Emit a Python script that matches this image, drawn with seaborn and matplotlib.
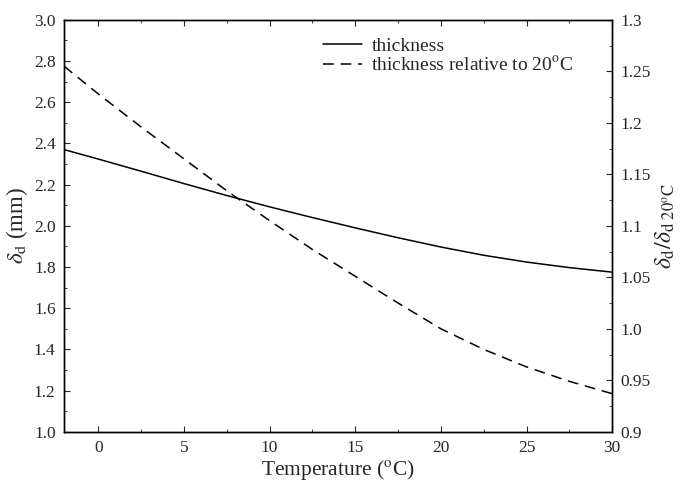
import numpy as np
import pandas as pd
import matplotlib
matplotlib.use("Agg")
import matplotlib.pyplot as plt
import seaborn as sns
from matplotlib.ticker import MultipleLocator, FixedLocator, FixedFormatter
from matplotlib.lines import Line2D

# Data
temperature = [-2, 0, 2.5, 5, 7.5, 10, 12.5, 15, 17.5, 20, 22.5, 25, 27.5, 30]
thickness = [2.370, 2.324, 2.265, 2.205, 2.147, 2.092, 2.040, 1.990, 1.942, 1.897, 1.857, 1.824, 1.797, 1.775]
relative = [1.255, 1.228, 1.196, 1.165, 1.134, 1.105, 1.077, 1.051, 1.025, 1.000, 0.980, 0.963, 0.949, 0.937]

left_ticks = [1.0, 1.2, 1.4, 1.6, 1.8, 2.0, 2.2, 2.4, 2.6, 2.8, 3.0]
right_ticks = [0.9, 0.95, 1.0, 1.05, 1.1, 1.15, 1.2, 1.25, 1.3]
right_labels = ["0.9", "0.95", "1.0", "1.05", "1.1", "1.15", "1.2", "1.25", "1.3"]

df = pd.DataFrame({"T": temperature, "thk": thickness, "rel": relative})

sns.set_style("ticks")
plt.rcParams["font.family"] = ["Liberation Serif", "DejaVu Serif"]
plt.rcParams["mathtext.fontset"] = "stix"

fig, ax = plt.subplots(figsize=(6.81, 4.83), dpi=100)
fig.subplots_adjust(left=0.094, right=0.899, top=0.959, bottom=0.106)
ax2 = ax.twinx()

sns.lineplot(data=df, x="T", y="thk", ax=ax, color="black", lw=1.1)
sns.lineplot(data=df, x="T", y="rel", ax=ax2, color="black", lw=1.1)
ax2.lines[0].set_dashes([7, 4.5])

ax.set_xlim(-2, 30)
ax.set_ylim(1.0, 3.0)
ax2.set_ylim(0.9, 1.3)

ax.xaxis.set_major_locator(MultipleLocator(5))
ax.xaxis.set_minor_locator(MultipleLocator(2.5))
ax.yaxis.set_major_locator(FixedLocator(left_ticks))
ax.yaxis.set_minor_locator(MultipleLocator(0.1))
ax.yaxis.set_major_formatter(plt.FormatStrFormatter("%.1f"))
ax2.yaxis.set_major_locator(FixedLocator(right_ticks))
ax2.yaxis.set_major_formatter(FixedFormatter(right_labels))
ax2.yaxis.set_minor_locator(MultipleLocator(0.025))

ax.tick_params(which="both", direction="in", top=True, right=False, labelsize=12.5, pad=6)
ax.tick_params(which="major", length=4)
ax.tick_params(which="minor", length=2)
ax2.tick_params(which="both", direction="in", labelsize=12.5, pad=6)
ax2.tick_params(which="major", length=4)
ax2.tick_params(which="minor", length=2)

ax.set_xlabel(r"Temperature ($^\mathrm{o}$C)", fontsize=15.5, labelpad=1)
ax.set_ylabel(r"$\delta_\mathrm{d}$ (mm)", fontsize=16.5, labelpad=3)
ax2.set_ylabel(r"$\delta_\mathrm{d}/\delta_{\mathrm{d}\ 20^\mathrm{o}\mathrm{C}}$", fontsize=17,
               rotation=90, labelpad=2)

for a in (ax, ax2):
    for s in a.spines.values():
        s.set_visible(True)
        s.set_linewidth(1.0)
        s.set_color("black")

handles = [Line2D([], [], color="black", lw=1.1),
           Line2D([], [], color="black", lw=1.1, dashes=[7, 4.5])]
ax.legend(handles, ["thickness", r"thickness relative to 20$^\mathrm{o}$C"],
          loc="upper left", bbox_to_anchor=(0.44, 1.0), frameon=False,
          fontsize=14, handlelength=2.0, labelspacing=0.05, handletextpad=0.5)

fig.savefig("out.png", dpi=100)
